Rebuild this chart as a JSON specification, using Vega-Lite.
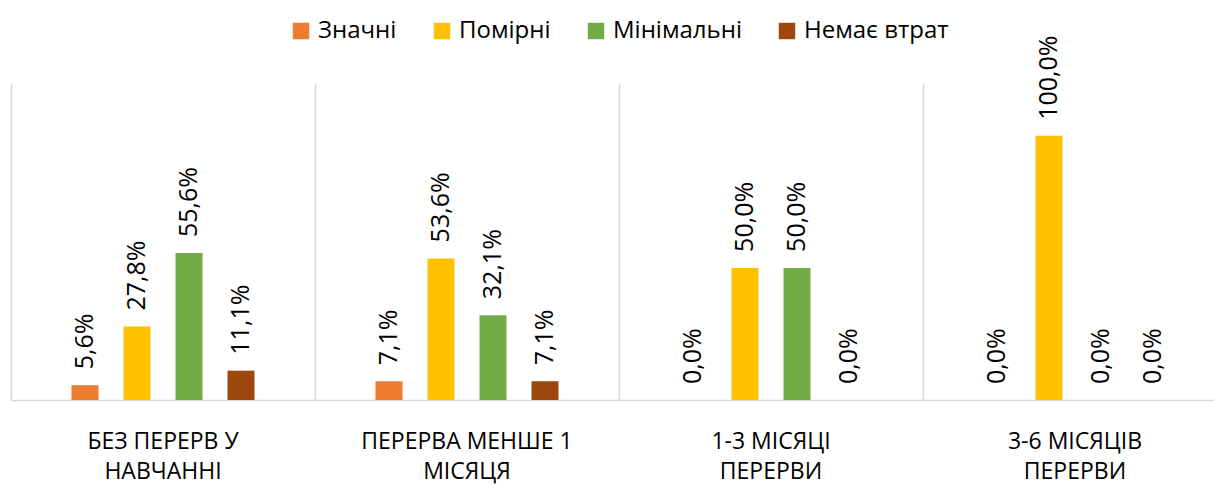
{
  "$schema": "https://vega.github.io/schema/vega-lite/v6.json",
  "width": 1203,
  "height": 317,
  "autosize": {"type": "none"},
  "padding": {"left": 11, "top": 83, "right": 0, "bottom": 85},
  "background": "white",
  "config": {
    "view": {"stroke": null},
    "font": "Open Sans"
  },
  "data": {
    "values": [
      {"category": "БЕЗ ПЕРЕРВ У НАВЧАННІ", "series": "Значні", "value": 5.6},
      {"category": "БЕЗ ПЕРЕРВ У НАВЧАННІ", "series": "Помірні", "value": 27.8},
      {"category": "БЕЗ ПЕРЕРВ У НАВЧАННІ", "series": "Мінімальні", "value": 55.6},
      {"category": "БЕЗ ПЕРЕРВ У НАВЧАННІ", "series": "Немає втрат", "value": 11.1},
      {"category": "ПЕРЕРВА МЕНШЕ 1 МІСЯЦЯ", "series": "Значні", "value": 7.1},
      {"category": "ПЕРЕРВА МЕНШЕ 1 МІСЯЦЯ", "series": "Помірні", "value": 53.6},
      {"category": "ПЕРЕРВА МЕНШЕ 1 МІСЯЦЯ", "series": "Мінімальні", "value": 32.1},
      {"category": "ПЕРЕРВА МЕНШЕ 1 МІСЯЦЯ", "series": "Немає втрат", "value": 7.1},
      {"category": "1-3 МІСЯЦІ ПЕРЕРВИ", "series": "Значні", "value": 0},
      {"category": "1-3 МІСЯЦІ ПЕРЕРВИ", "series": "Помірні", "value": 50},
      {"category": "1-3 МІСЯЦІ ПЕРЕРВИ", "series": "Мінімальні", "value": 50},
      {"category": "1-3 МІСЯЦІ ПЕРЕРВИ", "series": "Немає втрат", "value": 0},
      {"category": "3-6 МІСЯЦІВ ПЕРЕРВИ", "series": "Значні", "value": 0},
      {"category": "3-6 МІСЯЦІВ ПЕРЕРВИ", "series": "Помірні", "value": 100},
      {"category": "3-6 МІСЯЦІВ ПЕРЕРВИ", "series": "Мінімальні", "value": 0},
      {"category": "3-6 МІСЯЦІВ ПЕРЕРВИ", "series": "Немає втрат", "value": 0}
    ]
  },
  "transform": [
    {"calculate": "replace(format(datum.value, '.1f'), '.', ',') + '%'", "as": "label"}
  ],
  "encoding": {
    "x": {
      "field": "category",
      "type": "nominal",
      "sort": null,
      "scale": {"range": [0, 1216], "paddingInner": 0, "paddingOuter": 0},
      "axis": {
        "title": null,
        "labelAngle": 0,
        "labelFontSize": 23,
        "labelColor": "#000000",
        "labelPadding": 30,
        "labelLineHeight": 30,
        "labelLimit": 0,
        "labelExpr": "[slice(datum.label, 0, lastindexof(datum.label, ' ')), slice(datum.label, lastindexof(datum.label, ' ') + 1)]",
        "ticks": false,
        "domainColor": "#d9d9d9",
        "domainWidth": 1.5,
        "grid": true,
        "gridColor": "#d9d9d9",
        "gridWidth": 1.5,
        "bandPosition": 0
      }
    },
    "xOffset": {
      "field": "series",
      "type": "nominal",
      "sort": ["Значні", "Помірні", "Мінімальні", "Немає втрат"],
      "scale": {"range": [48, 256], "paddingInner": 0.4808, "paddingOuter": 0.2404}
    },
    "y": {
      "field": "value",
      "type": "quantitative",
      "scale": {"domain": [0, 120], "nice": false},
      "axis": null
    }
  },
  "layer": [
    {
      "mark": {"type": "bar"},
      "encoding": {
        "color": {
          "field": "series",
          "type": "nominal",
          "sort": ["Значні", "Помірні", "Мінімальні", "Немає втрат"],
          "scale": {
            "domain": ["Значні", "Помірні", "Мінімальні", "Немає втрат"],
            "range": ["#ED7D31", "#FFC000", "#70AD47", "#9E480E"]
          },
          "legend": {
            "title": null,
            "orient": "none",
            "direction": "horizontal",
            "legendX": 278,
            "legendY": -64,
            "padding": 0,
            "symbolType": "square",
            "symbolSize": 272,
            "symbolStrokeWidth": 0,
            "symbolOpacity": 1,
            "labelFontSize": 24,
            "labelColor": "#000000",
            "labelOffset": 5,
            "columnPadding": 33,
            "labelLimit": 0
          }
        }
      }
    },
    {
      "mark": {
        "type": "text",
        "angle": 270,
        "align": "left",
        "baseline": "middle",
        "dx": 16,
        "fontSize": 25,
        "color": "#000000"
      },
      "encoding": {
        "text": {"field": "label", "type": "nominal"}
      }
    }
  ]
}
